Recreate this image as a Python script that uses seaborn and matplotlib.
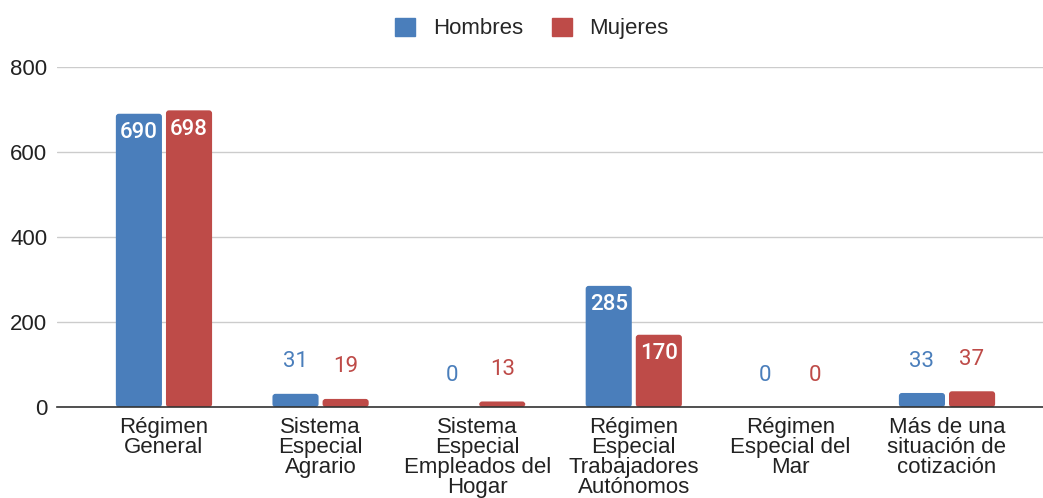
import pandas as pd
import matplotlib
matplotlib.use("Agg")
import matplotlib.pyplot as plt
from matplotlib.patches import FancyBboxPatch
import seaborn as sns

categories = [
    "Régimen\nGeneral",
    "Sistema\nEspecial\nAgrario",
    "Sistema\nEspecial\nEmpleados del\nHogar",
    "Régimen\nEspecial\nTrabajadores\nAutónomos",
    "Régimen\nEspecial del\nMar",
    "Más de una\nsituación de\ncotización",
]
hombres = [690, 31, 0, 285, 0, 33]
mujeres = [698, 19, 13, 170, 0, 37]
series = ["Hombres", "Mujeres"]
colors = {"Hombres": "#4a7ebb", "Mujeres": "#be4b48"}

df = pd.DataFrame({
    "cat": categories * 2,
    "serie": ["Hombres"] * len(categories) + ["Mujeres"] * len(categories),
    "valor": hombres + mujeres,
})

sns.set_style("white")
plt.rcParams["font.family"] = ["Liberation Sans", "DejaVu Sans"]

fig = plt.figure(figsize=(10.43, 4.98), dpi=100)
ax = fig.add_axes([57 / 1043, 91 / 498, (1043 - 57) / 1043, 340 / 498])

sns.barplot(ax=ax, data=df, x="cat", y="valor", hue="serie", order=categories,
            hue_order=series, palette=colors, width=0.64, saturation=1, legend=False)

ax.set_ylim(0, 800)
ax.set_xlim(-0.683, 5.613)

# small gap between bars + rounded corners (like the original)
gap = 2 / 156.6
radius = 3 / 156.6
aspect = (800 / 340) / (1 / 156.6)
for p in list(ax.patches):
    x, y, w, h = p.get_x(), p.get_y(), p.get_width(), p.get_height()
    p.set_visible(False)
    if h <= 0:
        continue
    ax.add_patch(FancyBboxPatch((x + gap, y), w - 2 * gap, h,
                                boxstyle=f"round,pad=0,rounding_size={radius}",
                                mutation_aspect=aspect, facecolor=p.get_facecolor(),
                                edgecolor="none", zorder=2))

ax.set_yticks([0, 200, 400, 600, 800])
ax.yaxis.grid(True, color="#cccccc", linewidth=1)
ax.set_axisbelow(True)
for s in ["top", "right", "left"]:
    ax.spines[s].set_visible(False)
ax.spines["bottom"].set_color("#333333")
ax.spines["bottom"].set_linewidth(1.2)
ax.spines["bottom"].set_zorder(3)
ax.set_xlabel("")
ax.set_ylabel("")
ax.tick_params(axis="y", length=0, labelsize=16, labelcolor="#222222", pad=7)
ax.tick_params(axis="x", length=0, labelsize=16, labelcolor="#222222", pad=7)
for lbl in ax.get_xticklabels():
    lbl.set_linespacing(0.95)

# data labels
for cont, name in zip(ax.containers, series):
    for bar, v in zip(cont, hombres if name == "Hombres" else mujeres):
        x = bar.get_x() + bar.get_width() / 2
        if v > 100:
            ax.annotate(str(v), (x, v), xytext=(0, -13.5), textcoords="offset points",
                        ha="center", va="center", color="white", fontsize=16,
                        family="Roboto", weight="medium", zorder=4)
        else:
            ax.annotate(str(v), (x, v), xytext=(0, 23), textcoords="offset points",
                        ha="center", va="center", color=colors[name], fontsize=16,
                        family="Roboto", zorder=4)

handles = [plt.Rectangle((0, 0), 1, 1, color=colors[s]) for s in series]
fig.legend(handles, series, loc="upper center", bbox_to_anchor=(0.51, 1.005), ncol=2,
           frameon=False, fontsize=16, handlelength=0.9, handleheight=0.9,
           columnspacing=1.3, handletextpad=0.8)

fig.savefig("out.png", dpi=100)
